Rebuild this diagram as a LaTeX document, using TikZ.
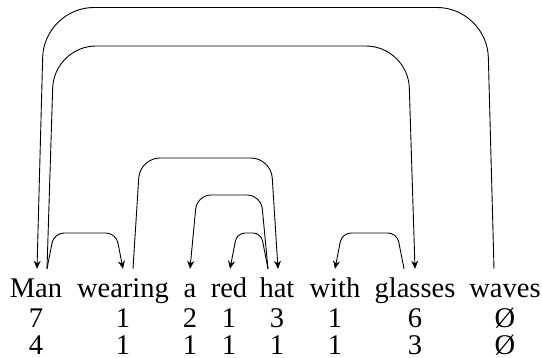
\documentclass[tikz,border=0pt]{standalone}
\usepackage{fontspec}
\setmainfont{Liberation Serif}
\newfontfamily\wordfont{Liberation Serif}
\usetikzlibrary{arrows.meta,calc}
\begin{document}
\begin{tikzpicture}[x=1pt,y=-1pt,
  word/.style={inner sep=0pt,anchor=base,text height=20pt,text depth=6pt,font=\wordfont\fontsize{28.5}{30}\selectfont},
  num/.style={inner sep=0pt,anchor=base,font=\wordfont\fontsize{28.5}{30}\selectfont},
  dep/.style={line width=0.9pt,-{Stealth[length=8pt,width=7pt]}}]
\useasboundingbox (0,0) rectangle (542,358);
% words
\node[word] (man) at (36,298) {Man};
\node[word] (wear) at (123,298) {wearing};
\node[word] (a) at (190,298) {a};
\node[word] (red) at (229,298) {red};
\node[word] (hat) at (277,298) {hat};
\node[word] (with) at (335,298) {with};
\node[word] (glas) at (415,298) {glasses};
\node[word] (wav) at (505,298) {waves};
% numbers row 1
\node[num] (r1a) at (36,327.5) {7};
\node[num] (r1b) at (123,327.5) {1};
\node[num] (r1c) at (190,327.5) {2};
\node[num] (r1d) at (229,327.5) {1};
\node[num] (r1e) at (277,327.5) {3};
\node[num] (r1f) at (335,327.5) {1};
\node[num] (r1g) at (415,327.5) {6};
\node[num] (r1h) at (505,327.5) {Ø};
% numbers row 2
\node[num] (r2a) at (36,354.5) {4};
\node[num] (r2b) at (123,354.5) {1};
\node[num] (r2c) at (190,354.5) {1};
\node[num] (r2d) at (229,354.5) {1};
\node[num] (r2e) at (277,354.5) {1};
\node[num] (r2f) at (335,354.5) {1};
\node[num] (r2g) at (415,354.5) {3};
\node[num] (r2h) at (505,354.5) {Ø};
% edge end points
\coordinate (manIn) at ([shift={(1pt,9pt)}]man.north);
\coordinate (manOut) at ([shift={(11pt,9pt)}]man.north);
\coordinate (wrIn) at ([shift={(0pt,9pt)}]wear.north);
\coordinate (wrOut) at ([shift={(10pt,9pt)}]wear.north);
\coordinate (aIn) at ([shift={(0pt,9pt)}]a.north);
\coordinate (rdIn) at ([shift={(1pt,9pt)}]red.north);
\coordinate (htIn) at ([shift={(1pt,9pt)}]hat.north);
\coordinate (htOut) at ([shift={(-9pt,9pt)}]hat.north);
\coordinate (wtIn) at ([shift={(0pt,9pt)}]with.north);
\coordinate (glIn) at ([shift={(0pt,9pt)}]glas.north);
\coordinate (glOut) at ([shift={(-11pt,9pt)}]glas.north);
\coordinate (wvOut) at ([shift={(-11pt,9pt)}]wav.north);
% edges
\draw[dep,rounded corners=50pt] let \p1=(wvOut),\p2=(manIn) in
  (wvOut) -- (\x1-7pt,-7.5pt) -- (\x2+7pt,-7.5pt) -- (manIn);
\draw[dep,rounded corners=42pt] let \p1=(manOut),\p2=(glIn) in
  (manOut) -- (\x1+7pt,-46pt) -- (\x2-7pt,-46pt) -- (glIn);
\draw[dep,rounded corners=10pt] let \p1=(manOut),\p2=(wrIn) in
  (manOut) -- (\x1+7pt,-233pt) -- (\x2-7pt,-233pt) -- (wrIn);
\draw[dep,rounded corners=20pt] let \p1=(wrOut),\p2=(htIn) in
  (wrOut) -- (\x1+7pt,-158pt) -- (\x2-7pt,-158pt) -- (htIn);
\draw[dep,rounded corners=14pt] let \p1=(htOut),\p2=(aIn) in
  (htOut) -- (\x1-7pt,-195pt) -- (\x2+7pt,-195pt) -- (aIn);
\draw[dep,rounded corners=8pt] let \p1=(htOut),\p2=(rdIn) in
  (htOut) -- (\x1-7pt,-233pt) -- (\x2+7pt,-233pt) -- (rdIn);
\draw[dep,rounded corners=9pt] let \p1=(glOut),\p2=(wtIn) in
  (glOut) -- (\x1-7pt,-233pt) -- (\x2+7pt,-233pt) -- (wtIn);
\end{tikzpicture}
\end{document}
